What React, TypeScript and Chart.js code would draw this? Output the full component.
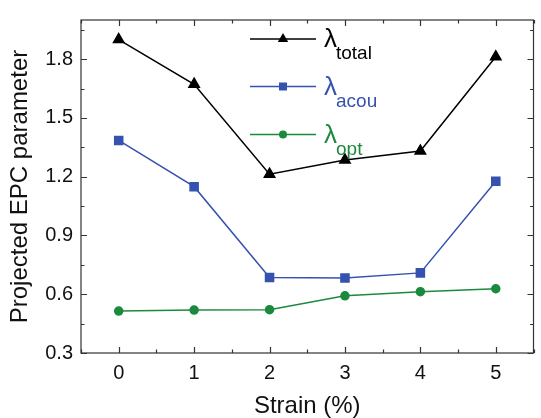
import React, { useEffect, useRef } from "react";
import { Chart, registerables } from "chart.js";

Chart.register(...registerables);

const strain = [0, 1, 2, 3, 4, 5];
const lambdaTotal = [1.9, 1.672, 1.213, 1.285, 1.331, 1.812];
const lambdaAcou = [1.385, 1.149, 0.685, 0.683, 0.709, 1.177];
const lambdaOpt = [0.514, 0.519, 0.521, 0.592, 0.613, 0.628];
const xTicks = [0, 1, 2, 3, 4, 5];
const yTicks = [0.3, 0.6, 0.9, 1.2, 1.5, 1.8];
const legendSubs = ["total", "acou", "opt"];

const FONT = "'Liberation Sans', Arial, Helvetica, sans-serif";
const BLACK = "#000000";
const BLUE = "#3552b0";
const GREEN = "#1b8a3e";

const frameTicks = {
  id: "frameTicks",
  afterDraw(chart: any) {
    const { ctx, chartArea, scales } = chart;
    const { left, right, top, bottom } = chartArea;
    const x = scales.x;
    const y = scales.y;
    ctx.save();
    ctx.strokeStyle = "#333333";
    ctx.lineWidth = 1.2;
    ctx.strokeRect(left, top, right - left, bottom - top);
    ctx.beginPath();
    for (let v = x.min; v <= x.max + 1e-9; v += 0.5) {
      const px = Math.round(x.getPixelForValue(v)) + 0.5;
      const major = Math.abs(v - Math.round(v)) < 1e-6;
      const len = major ? 6 : 3.5;
      ctx.moveTo(px, bottom);
      ctx.lineTo(px, bottom - len);
      ctx.moveTo(px, top);
      ctx.lineTo(px, top + len);
    }
    for (let v = 0.3; v <= y.max + 1e-9; v += 0.15) {
      const py = Math.round(y.getPixelForValue(v)) + 0.5;
      const major = Math.abs(v / 0.3 - Math.round(v / 0.3)) < 1e-6;
      const len = major ? 6 : 3.5;
      ctx.moveTo(left, py);
      ctx.lineTo(left + len, py);
      ctx.moveTo(right, py);
      ctx.lineTo(right - len, py);
    }
    ctx.stroke();

    // legend
    const lx0 = left + 169;
    const lx1 = left + 235;
    const rows = [top + 19, top + 66.5, top + 114.5];
    chart.data.datasets.forEach((ds: any, i: number) => {
      const ry = rows[i];
      ctx.strokeStyle = ds.borderColor;
      ctx.lineWidth = 1.5;
      ctx.beginPath();
      ctx.moveTo(lx0, ry);
      ctx.lineTo(lx1, ry);
      ctx.stroke();
      ctx.fillStyle = ds.borderColor;
      const cx = (lx0 + lx1) / 2;
      ctx.beginPath();
      if (ds.pointStyle === "triangle") {
        const r = 6;
        ctx.moveTo(cx, ry - r);
        ctx.lineTo(cx + r * 0.866, ry + r * 0.5);
        ctx.lineTo(cx - r * 0.866, ry + r * 0.5);
        ctx.closePath();
      } else if (ds.pointStyle === "rect") {
        ctx.rect(cx - 4, ry - 4, 8, 8);
      } else {
        ctx.arc(cx, ry, 4, 0, Math.PI * 2);
      }
      ctx.fill();
      ctx.textAlign = "left";
      ctx.textBaseline = "alphabetic";
      ctx.font = `26px ${FONT}`;
      ctx.fillText("λ", lx1 + 8, ry + 8);
      ctx.font = `19px ${FONT}`;
      ctx.fillText(legendSubs[i], lx1 + 20, ry + 20);
    });
    ctx.restore();
  },
};

export default function App() {
  const ref = useRef<HTMLCanvasElement>(null);
  useEffect(() => {
    document.body.style.margin = "0";
    const canvas = ref.current!;
    const mk = (arr: number[]) => strain.map((s, i) => ({ x: s, y: arr[i] }));
    const chart = new Chart(canvas, {
      type: "line",
      data: {
        datasets: [
          {
            label: "total",
            data: mk(lambdaTotal),
            borderColor: BLACK,
            backgroundColor: BLACK,
            pointStyle: "triangle",
            pointRadius: 6,
            borderWidth: 1.5,
          },
          {
            label: "acou",
            data: mk(lambdaAcou),
            borderColor: BLUE,
            backgroundColor: BLUE,
            pointStyle: "rect",
            pointRadius: 5.7,
            borderWidth: 1.5,
          },
          {
            label: "opt",
            data: mk(lambdaOpt),
            borderColor: GREEN,
            backgroundColor: GREEN,
            pointStyle: "circle",
            pointRadius: 4,
            borderWidth: 1.5,
          },
        ],
      },
      options: {
        animation: false,
        responsive: false,
        layout: { padding: { left: 0, right: 1, top: 11, bottom: 0 } },
        plugins: { legend: { display: false }, tooltip: { enabled: false } },
        scales: {
          x: {
            type: "linear",
            min: -0.5,
            max: 5.5,
            afterBuildTicks: (s: any) => {
              s.ticks = xTicks.map((v) => ({ value: v }));
            },
            afterFit: (s: any) => {
              s.height = 65;
            },
            grid: { display: false, drawTicks: false },
            border: { display: false },
            ticks: {
              padding: 8,
              color: "#111",
              font: { family: FONT, size: 20 },
              maxRotation: 0,
              callback: (v: any) => String(v),
            },
            title: {
              display: true,
              text: "Strain (%)",
              color: "#111",
              font: { family: FONT, size: 24, lineHeight: 1.0 },
              padding: { top: 0, bottom: 0 },
            },
          },
          y: {
            type: "linear",
            min: 0.3,
            max: 2.0,
            afterBuildTicks: (s: any) => {
              s.ticks = yTicks.map((v) => ({ value: v }));
            },
            afterFit: (s: any) => {
              s.width = 81;
            },
            grid: { display: false, drawTicks: false },
            border: { display: false },
            ticks: {
              padding: 8,
              color: "#111",
              font: { family: FONT, size: 20 },
              callback: (v: any) => Number(v).toFixed(1),
            },
            title: {
              display: true,
              text: "Projected EPC parameter",
              color: "#111",
              font: { family: FONT, size: 24, lineHeight: 1.0 },
              padding: { top: 8, bottom: 0 },
            },
          },
        },
      },
      plugins: [frameTicks],
    });
    return () => chart.destroy();
  }, []);
  return (
    <div style={{ width: 541, height: 418 }}>
      <canvas ref={ref} width={541} height={418} style={{ display: "block" }} />
    </div>
  );
}
